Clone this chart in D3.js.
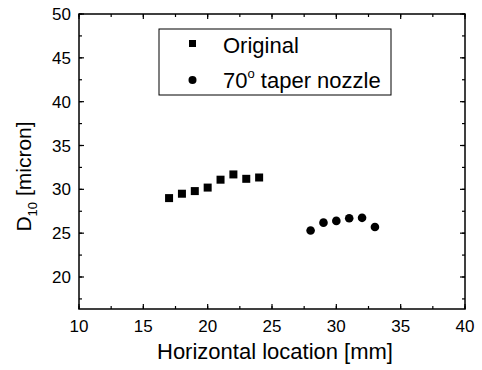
<!DOCTYPE html>
<html>
<head>
<meta charset="utf-8">
<script src="https://cdn.jsdelivr.net/npm/d3@7"></script>
<style>
  body { margin: 0; background: #fff; }
  svg { font-family: "Liberation Sans", Arial, sans-serif; }
</style>
</head>
<body>
<svg id="chart" width="482" height="370"></svg>
<script>
// data
const orig_x = [17, 18, 19, 20, 21, 22, 23, 24];
const orig_y = [29.0, 29.5, 29.8, 30.2, 31.1, 31.7, 31.2, 31.35];
const taper_x = [28, 29, 30, 31, 32, 33];
const taper_y = [25.3, 26.2, 26.4, 26.7, 26.75, 25.7];
const x_ticks = [10, 15, 20, 25, 30, 35, 40];
const y_ticks = [20, 25, 30, 35, 40, 45, 50];
const legend_labels = ["Original", "70", " taper nozzle"];

const margin = {top: 14, right: 17, bottom: 61, left: 79},
    width = 482 - margin.left - margin.right,
    height = 370 - margin.top - margin.bottom;

const svg = d3.select("#chart")
    .append("g")
    .attr("transform", "translate(" + margin.left + "," + margin.top + ")");

const x = d3.scaleLinear().domain([10, 40]).range([0, width]);
const y = d3.scaleLinear().domain([16.35, 50]).range([height, 0]);

const minorX = d3.range(10, 40.01, 2.5);
const minorY = d3.range(17.5, 50.01, 2.5);

// frame
svg.append("rect")
    .attr("width", width).attr("height", height)
    .attr("fill", "none").attr("stroke", "#000").attr("stroke-width", 1.5);

// ticks (inward, all four sides)
function ticks(vals, len, side) {
    svg.append("g").selectAll("line").data(vals).enter().append("line")
        .attr("stroke", "#000").attr("stroke-width", 1.2)
        .attr("x1", d => side === "b" || side === "t" ? x(d) : (side === "l" ? 0 : width))
        .attr("x2", d => side === "b" || side === "t" ? x(d) : (side === "l" ? len : width - len))
        .attr("y1", d => side === "l" || side === "r" ? y(d) : (side === "b" ? height : 0))
        .attr("y2", d => side === "l" || side === "r" ? y(d) : (side === "b" ? height - len : len));
}
ticks(x_ticks, 5, "b"); ticks(x_ticks, 5, "t");
ticks(minorX, 3, "b"); ticks(minorX, 3, "t");
ticks(y_ticks, 5, "l"); ticks(y_ticks, 5, "r");
ticks(minorY, 3, "l"); ticks(minorY, 3, "r");

// tick labels
svg.append("g").selectAll("text").data(x_ticks).enter().append("text")
    .attr("x", d => x(d)).attr("y", height + 23)
    .attr("text-anchor", "middle").attr("font-size", 17).text(d => d);

svg.append("g").selectAll("text").data(y_ticks).enter().append("text")
    .attr("x", -8).attr("y", d => y(d) + 6)
    .attr("text-anchor", "end").attr("font-size", 17).text(d => d);

// axis titles
svg.append("text")
    .attr("x", width / 2 + 3).attr("y", height + 50)
    .attr("text-anchor", "middle").attr("font-size", 22)
    .text("Horizontal location [mm]");

const yt = svg.append("text")
    .attr("transform", "translate(" + (-48) + "," + (height / 2 + 15) + ") rotate(-90)")
    .attr("text-anchor", "middle").attr("font-size", 21);
yt.append("tspan").text("D");
yt.append("tspan").attr("font-size", 13).attr("dy", 6).text("10");
yt.append("tspan").attr("dy", -6).text(" [micron]");

// markers
svg.append("g").selectAll("rect").data(orig_x).enter().append("rect")
    .attr("x", (d, i) => x(d) - 4).attr("y", (d, i) => y(orig_y[i]) - 4)
    .attr("width", 8).attr("height", 8).attr("fill", "#000");

svg.append("g").selectAll("circle").data(taper_x).enter().append("circle")
    .attr("cx", d => x(d)).attr("cy", (d, i) => y(taper_y[i]))
    .attr("r", 4.3).attr("fill", "#000");

// legend
const lg = svg.append("g").attr("transform", "translate(" + (159 - margin.left) + "," + (29 - margin.top) + ")");
lg.append("rect").attr("width", 232).attr("height", 66)
    .attr("fill", "#fff").attr("stroke", "#000").attr("stroke-width", 1);
lg.append("rect").attr("x", 30).attr("y", 11).attr("width", 7).attr("height", 7).attr("fill", "#000");
lg.append("circle").attr("cx", 33.5).attr("cy", 51).attr("r", 4).attr("fill", "#000");
lg.append("text").attr("x", 64).attr("y", 24).attr("font-size", 22).text(legend_labels[0]);
const t2 = lg.append("text").attr("x", 64).attr("y", 59).attr("font-size", 22);
t2.append("tspan").text(legend_labels[1]);
t2.append("tspan").attr("font-size", 13).attr("dy", -10).text("o");
t2.append("tspan").attr("dy", 10).text(legend_labels[2]);
</script>
</body>
</html>
